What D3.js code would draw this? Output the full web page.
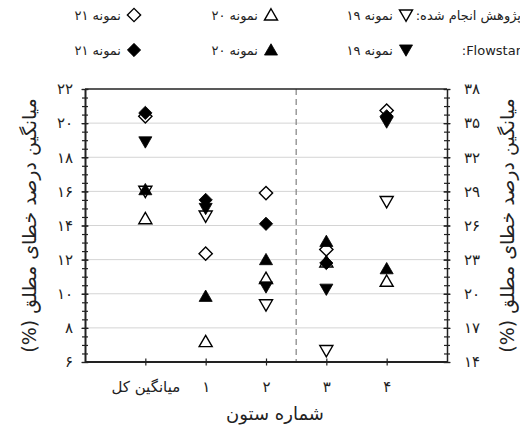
<!DOCTYPE html>
<html>
<head>
<meta charset="utf-8">
<script src="https://cdn.jsdelivr.net/npm/d3@7/dist/d3.min.js"></script>
<style>
  html, body { margin: 0; padding: 0; background: #fff; }
  svg { display: block; font-family: "DejaVu Sans", sans-serif; }
</style>
</head>
<body>
<svg id="chart" width="520" height="428"></svg>
<script>
// Columns on the left of the dashed divider use the left axis, the rest the right axis
const leftCategories = ['میانگین کل', '۱', '۲'];
const rightCategories = ['۳', '۴'];

// Tick values of both y axes
const leftTicks = [6, 8, 10, 12, 14, 16, 18, 20, 22];
const rightTicks = [14, 17, 20, 23, 26, 29, 32, 35, 38];

// Mean absolute error (%) per column: left-axis columns, then right-axis columns
const research19Left = [16.0, 14.55, 9.35];
const research19Right = [15.0, 28.1];
const research20Left = [14.4, 7.2, 10.9];
const research20Right = [22.8, 21.1];
const research21Left = [20.4, 12.35, 15.9];
const research21Right = [23.9, 36.1];
const flowstar19Left = [18.9, 15.0, 10.4];
const flowstar19Right = [20.4, 35.1];
const flowstar20Left = [16.1, 9.85, 12.0];
const flowstar20Right = [24.6, 22.2];
const flowstar21Left = [20.6, 15.5, 14.1];
const flowstar21Right = [22.7, 35.6];

const fa = s => String(s).replace(/\d/g, c => '۰۱۲۳۴۵۶۷۸۹'[+c]);

const svg = d3.select('#chart');
const m = { left: 85, right: 447, top: 89, bottom: 362 };
const categories = leftCategories.concat(rightCategories);

const x = d3.scalePoint().domain(categories).range([m.left, m.right]).padding(1);
const yL = d3.scaleLinear().domain([6, 22]).range([m.bottom, m.top]);
const yR = d3.scaleLinear().domain([14, 38]).range([m.bottom, m.top]);

// Horizontal gridlines at the inner major ticks
svg.append('g').selectAll('line')
  .data(leftTicks.slice(1, -1))
  .join('line')
  .attr('x1', m.left).attr('x2', m.right)
  .attr('y1', d => yL(d)).attr('y2', d => yL(d))
  .attr('stroke', '#d4d4d4').attr('stroke-width', 1);

// Dashed divider between the two groups of columns
const divX = (x(leftCategories[leftCategories.length - 1]) + x(rightCategories[0])) / 2;
svg.append('line')
  .attr('x1', divX).attr('x2', divX)
  .attr('y1', m.top).attr('y2', m.bottom)
  .attr('stroke', '#808080').attr('stroke-width', 1.2)
  .attr('stroke-dasharray', '6,4');

// Frame: top edge
svg.append('line')
  .attr('x1', m.left).attr('x2', m.right)
  .attr('y1', m.top).attr('y2', m.top)
  .attr('stroke', '#222').attr('stroke-width', 1.5);

function crossTicks(g, len) {
  g.selectAll('.tick line').attr('x1', -len).attr('x2', len).attr('stroke', '#222').attr('stroke-width', 1.2);
}

const labelFont = g => g.selectAll('text')
  .attr('font-size', 15).attr('fill', '#222').attr('font-family', 'DejaVu Sans, sans-serif');

// Left axis: minor ticks then labelled majors
const minorVals = d3.range(6, 22.001, 0.5);
svg.append('g').attr('transform', `translate(${m.left},0)`)
  .call(d3.axisLeft(yL).tickValues(minorVals).tickFormat('').tickSizeOuter(0))
  .call(g => g.select('.domain').remove())
  .call(g => crossTicks(g, 3));
svg.append('g').attr('transform', `translate(${m.left},0)`)
  .call(d3.axisLeft(yL).tickValues(leftTicks).tickFormat(fa).tickSizeOuter(0).tickPadding(6))
  .call(g => g.select('.domain').attr('stroke', '#222').attr('stroke-width', 2))
  .call(g => crossTicks(g, 3.5))
  .call(labelFont);

// Right axis: minor ticks aligned with the left ones, then labelled majors
const minorRight = minorVals.map(v => yR.invert(yL(v)));
svg.append('g').attr('transform', `translate(${m.right},0)`)
  .call(d3.axisRight(yR).tickValues(minorRight).tickFormat('').tickSizeOuter(0))
  .call(g => g.select('.domain').remove())
  .call(g => crossTicks(g, 3));
svg.append('g').attr('transform', `translate(${m.right},0)`)
  .call(d3.axisRight(yR).tickValues(rightTicks).tickFormat(fa).tickSizeOuter(0).tickPadding(11))
  .call(g => g.select('.domain').attr('stroke', '#222').attr('stroke-width', 1.5))
  .call(g => crossTicks(g, 3.5))
  .call(labelFont);

// Bottom axis
svg.append('g').attr('transform', `translate(0,${m.bottom})`)
  .call(d3.axisBottom(x).tickSizeOuter(0).tickPadding(13))
  .call(g => g.select('.domain').attr('stroke', '#222').attr('stroke-width', 2).attr('d', `M${m.left},0H${m.right}`))
  .call(g => g.selectAll('.tick line').attr('y1', -3.5).attr('y2', 3.5).attr('stroke', '#222').attr('stroke-width', 1.2))
  .call(labelFont);

// Marker shapes
const tri = d3.symbol().type(d3.symbolTriangle).size(74);
const dia = d3.symbol().type(d3.symbolSquare).size(88);
const shapes = {
  down: () => tri(),
  up: () => tri(),
  diamond: () => dia()
};
const rot = { down: 180, up: 0, diamond: 45 };

const series = [
  { name: 'research19', shape: 'down', filled: false, left: research19Left, right: research19Right },
  { name: 'research20', shape: 'up', filled: false, left: research20Left, right: research20Right },
  { name: 'research21', shape: 'diamond', filled: false, left: research21Left, right: research21Right },
  { name: 'flowstar19', shape: 'down', filled: true, left: flowstar19Left, right: flowstar19Right },
  { name: 'flowstar20', shape: 'up', filled: true, left: flowstar20Left, right: flowstar20Right },
  { name: 'flowstar21', shape: 'diamond', filled: true, left: flowstar21Left, right: flowstar21Right }
];

function drawMarker(g, shape, filled, cx, cy) {
  const dy = shape === 'up' ? 1.3 : shape === 'down' ? -1.3 : 0;
  g.append('path')
    .attr('d', shapes[shape]())
    .attr('transform', `translate(${cx},${cy + dy}) rotate(${rot[shape]})`)
    .attr('fill', filled ? '#000' : '#fff')
    .attr('stroke', '#000')
    .attr('stroke-width', filled ? 0.8 : 1.4);
}

const marks = svg.append('g');
series.forEach(s => {
  const pts = leftCategories.map((c, i) => [x(c), yL(s.left[i])])
    .concat(rightCategories.map((c, i) => [x(c), yR(s.right[i])]));
  pts.forEach(([cx, cy]) => drawMarker(marks, s.shape, s.filled, cx, cy));
});

// Legend
const legend = svg.append('g').attr('font-size', 13).attr('fill', '#222');
legend.append('text').attr('x', 521).attr('y', 20).attr('direction', 'rtl').attr('text-anchor', 'start')
  .text('پژوهش انجام شده:');
legend.append('text').attr('x', 521).attr('y', 55).attr('direction', 'rtl').attr('text-anchor', 'start')
  .text('Flowstar:');
const legendCols = [
  { label: 'نمونه ۱۹', mx: 406, shape: 'down' },
  { label: 'نمونه ۲۰', mx: 271, shape: 'up' },
  { label: 'نمونه ۲۱', mx: 134, shape: 'diamond' }
];
legendCols.forEach(c => {
  drawMarker(legend, c.shape, false, c.mx, 15);
  drawMarker(legend, c.shape, true, c.mx, 50);
  legend.append('text').attr('x', c.mx - 13).attr('y', 20).attr('direction', 'rtl').attr('text-anchor', 'start').text(c.label);
  legend.append('text').attr('x', c.mx - 13).attr('y', 55).attr('direction', 'rtl').attr('text-anchor', 'start').text(c.label);
});

// Axis titles
const yTitle = 'میانگین درصد خطای مطلق (%)';
svg.append('text')
  .attr('transform', `translate(36,${(m.top + m.bottom) / 2}) rotate(-90)`)
  .attr('text-anchor', 'middle').attr('direction', 'rtl')
  .attr('font-size', 19).attr('fill', '#222').text(yTitle);
svg.append('text')
  .attr('transform', `translate(514,${(m.top + m.bottom) / 2}) rotate(-90)`)
  .attr('text-anchor', 'middle').attr('direction', 'rtl')
  .attr('font-size', 19).attr('fill', '#222').text(yTitle);
svg.append('text')
  .attr('x', 275).attr('y', 420)
  .attr('text-anchor', 'middle')
  .attr('font-size', 18).attr('fill', '#222').text('شماره ستون');
</script>
</body>
</html>
